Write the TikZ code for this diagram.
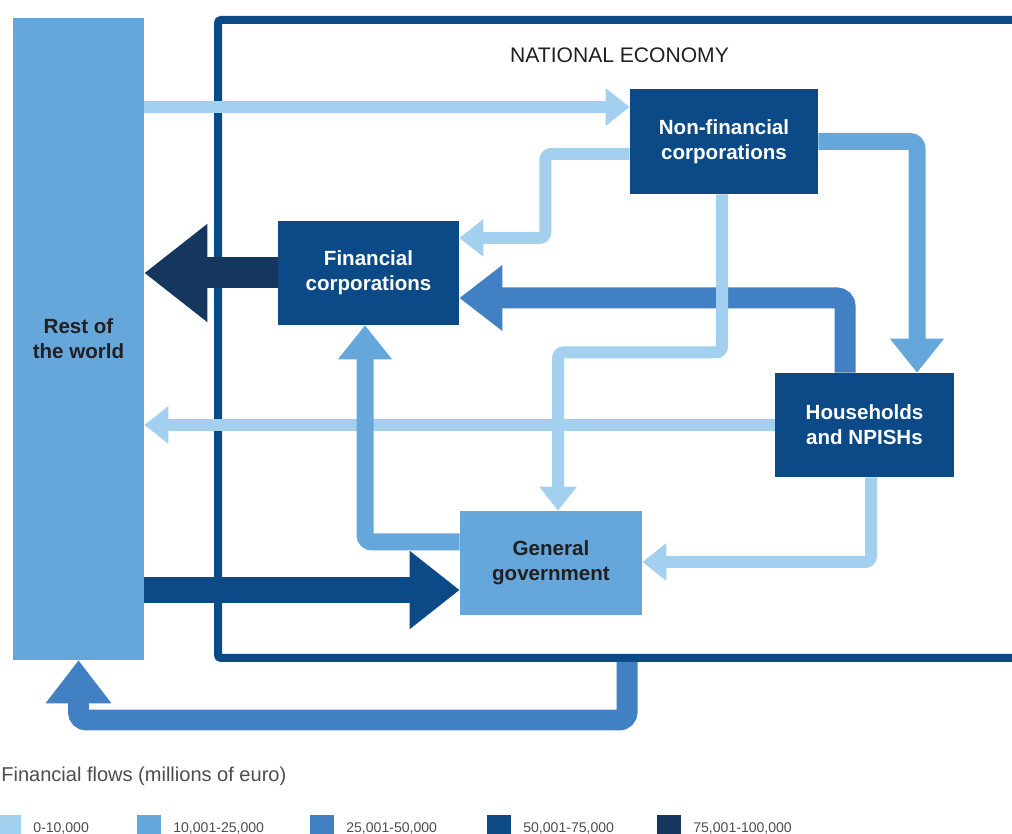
\documentclass[tikz,border=0pt]{standalone}
\usepackage{fontspec}
\setmainfont{Liberation Sans}
\usepackage{tikz}
\usetikzlibrary{arrows.meta, calc}
\definecolor{flowlight}{HTML}{A4D0EF}
\definecolor{flowsky}{HTML}{65A7DA}
\definecolor{flowmid}{HTML}{4080C3}
\definecolor{flowdeep}{HTML}{0C4A87}
\definecolor{flownavy}{HTML}{15365F}
\definecolor{textdark}{HTML}{231F20}
\definecolor{textgrey}{HTML}{4D4D4D}

\begin{document}
\begin{tikzpicture}[
    x=0.02cm, y=-0.02cm,
    sector/.style={
        rectangle,
        inner sep=0pt,
        minimum width=3.64cm,
        minimum height=2.08cm,
        align=center,
        font=\bfseries\fontsize{11.7}{14.2}\selectfont,
        fill=flowdeep,
        text=white
    },
    band1/.style={
        -{Triangle[length=0.48cm, width=0.72cm]},
        line width=0.24cm,
        rounded corners=0.12cm,
        color=flowlight
    },
    band2/.style={
        -{Triangle[length=0.68cm, width=1.04cm]},
        line width=0.34cm,
        rounded corners=0.14cm,
        color=flowsky
    },
    band3/.style={
        -{Triangle[length=0.86cm, width=1.26cm]},
        line width=0.42cm,
        rounded corners=0.16cm,
        color=flowmid
    },
    band4/.style={
        -{Triangle[length=1.0cm, width=1.5cm]},
        line width=0.52cm,
        color=flowdeep
    },
    band5/.style={
        -{Triangle[length=1.26cm, width=1.88cm]},
        line width=0.62cm,
        color=flownavy
    },
    legendtext/.style={
        anchor=base west,
        inner sep=0pt,
        text=textgrey
    }
]
\useasboundingbox (0,0) rectangle (1012,834);
\clip (0,0) rectangle (1012,834);

% National economy frame
\draw[line width=0.16cm, flowdeep, rounded corners=0.06cm]
    (1040,20) -- (218,20) -- (218,658) -- (1040,658);
\node[font=\fontsize{12}{14}\selectfont, text=textdark] (title) at (619.5,55) {NATIONAL ECONOMY};

% Sectors
\node[sector, fill=flowsky, text=textdark, minimum width=2.62cm, minimum height=12.84cm] (row) at (78.5,339) {Rest of\\the world};
\node[sector, minimum width=3.76cm, minimum height=2.1cm] (nfc) at (724,141.5) {Non-financial\\corporations};
\node[sector, minimum width=3.62cm] (fc) at (368.5,273) {Financial\\corporations};
\node[sector, minimum width=3.58cm] (hh) at (864.5,425) {Households\\and NPISHs};
\node[sector, fill=flowsky, text=textdark] (gg) at (551,563) {General\\government};

% Ports
\coordinate (nfcin) at ($(nfc.west)+(0,-34.5)$);
\coordinate (ggin) at ($(gg.west)+(0,27)$);
\coordinate (neout) at (627,662);

% 25,001-50,000
\draw[band3] ($(hh.north)+(-19.5,0)$) |- ($(fc.east)+(0,25)$);
\draw[band3] (neout) -- ++(0,58) -| (row.south);

% 0-10,000
\draw[band1] (row.east |- nfcin) -- (nfcin);
\draw[band1] ($(nfc.west)+(0,12.5)$) -| ($(fc.east)+(86,-35)$) -- ($(fc.east)+(0,-35)$);
\draw[band1] ($(nfc.south)+(-2,0)$) -- ++(0,158) -| ($(gg.north)+(7,0)$);
\draw[band1] (hh.west) -- (hh.west -| row.east);
\draw[band1] ($(hh.south)+(6.5,0)$) |- ($(gg.east)+(0,-1)$);

% 10,001-25,000
\draw[band2] (nfc.east) -| ($(hh.north)+(52.5,0)$);
\draw[band2] ($(gg.west)+(0,-21)$) -| ($(fc.south)+(-3.5,0)$);

% 50,001-75,000 and 75,001-100,000
\draw[band4] (row.east |- ggin) -- (ggin);
\draw[band5] (fc.west) -- (fc.west -| row.east);

% Legend
\node[legendtext, font=\fontsize{11.4}{14}\selectfont] (legtitle) at (1,782) {Financial flows (millions of euro)};
\foreach \x/\col/\lab in {-3/flowlight/{0-10,000}, 137/flowsky/{10,001-25,000}, 310/flowmid/{25,001-50,000}, 487/flowdeep/{50,001-75,000}, 657/flownavy/{75,001-100,000}} {
    \fill[\col] (\x,815) rectangle ++(24,30);
    \node[legendtext, font=\fontsize{8}{10}\selectfont] at (\x+36,832) {\lab};
}

\end{tikzpicture}
\end{document}
